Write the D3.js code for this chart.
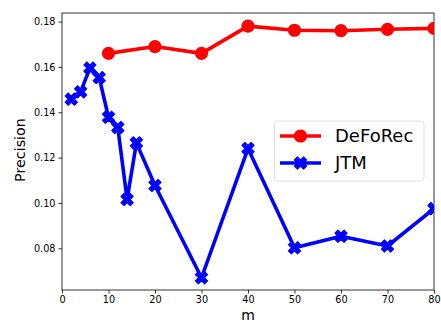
<!DOCTYPE html>
<html><head><meta charset="utf-8">
<script src="https://cdn.jsdelivr.net/npm/d3@7"></script>
<style>body{margin:0;background:#fff}svg{display:block}text{font-family:"DejaVu Sans",sans-serif}</style>
</head><body><svg id="c" width="441" height="322"></svg>
<script>
const defoX = [10, 20, 30, 40, 50, 60, 70, 80];
const defoY = [0.166, 0.169, 0.166, 0.178, 0.1762, 0.176, 0.1766, 0.1770];
const jtmX = [2, 4, 6, 8, 10, 12, 14, 16, 20, 30, 40, 50, 60, 70, 80];
const jtmY = [0.1458, 0.1490, 0.1595, 0.1553, 0.1378, 0.1333, 0.1015, 0.1265, 0.1077, 0.0670, 0.1240, 0.0802, 0.0853, 0.0810, 0.0975];
const xTicks = [0, 10, 20, 30, 40, 50, 60, 70, 80];
const yTicks = [0.08, 0.10, 0.12, 0.14, 0.16, 0.18];
const seriesNames = ["DeFoRec", "JTM"];
const colors = ["#ff0000", "#0000ff"];

const svg = d3.select("#c");
const L = 62, R = 434, T = 13, B = 290;
const x = d3.scaleLinear().domain([0, 80]).range([L, R]);
const y = d3.scaleLinear().domain([0.0616, 0.1838]).range([B, T]);

const gx = svg.append("g").attr("transform", `translate(0,${B})`)
  .call(d3.axisBottom(x).tickValues(xTicks).tickSize(3.5).tickPadding(3).tickFormat(d3.format("d")));
const gy = svg.append("g").attr("transform", `translate(${L},0)`)
  .call(d3.axisLeft(y).tickValues(yTicks).tickSize(3.5).tickPadding(3).tickFormat(d3.format(".2f")));
[gx, gy].forEach(g => {
  g.select(".domain").remove();
  g.selectAll("text").attr("font-size", 9.7).attr("fill", "#000").attr("font-family", "DejaVu Sans");
  g.selectAll("line").attr("stroke", "#000").attr("stroke-width", 0.8);
});
svg.append("rect").attr("x", L).attr("y", T).attr("width", R - L).attr("height", B - T)
  .attr("fill", "none").attr("stroke", "#000").attr("stroke-width", 0.8);

const clip = svg.append("clipPath").attr("id", "clp").append("rect")
  .attr("x", L).attr("y", T).attr("width", R - L).attr("height", B - T);

const line = d3.line().x(d => x(d[0])).y(d => y(d[1]));
const defo = defoX.map((v, i) => [v, defoY[i]]);
const jtm = jtmX.map((v, i) => [v, jtmY[i]]);
const plot = svg.append("g").attr("clip-path", "url(#clp)");

const xSym = d3.symbol().type(d3.symbolCross).size(95);
function drawX(g, cx, cy) {
  g.append("path").attr("d", xSym()).attr("transform", `translate(${cx},${cy}) rotate(45)`)
    .attr("fill", colors[1]).attr("stroke", colors[1]).attr("stroke-width", 1).attr("stroke-linejoin", "round");
}

plot.append("path").datum(defo).attr("d", line).attr("fill", "none").attr("stroke", colors[0]).attr("stroke-width", 3.6).attr("stroke-linejoin", "round");
plot.selectAll(".dc").data(defo).enter().append("circle")
  .attr("cx", d => x(d[0])).attr("cy", d => y(d[1])).attr("r", 6.6).attr("fill", colors[0]);

plot.append("path").datum(jtm).attr("d", line).attr("fill", "none").attr("stroke", colors[1]).attr("stroke-width", 3.6).attr("stroke-linejoin", "round");
jtm.forEach(d => drawX(plot, x(d[0]), y(d[1])));

// legend
const lg = svg.append("g");
lg.append("rect").attr("x", 274.5).attr("y", 121).attr("width", 149.5).attr("height", 60).attr("rx", 3)
  .attr("fill", "#fff").attr("fill-opacity", 0.8).attr("stroke", "#d9d9d9").attr("stroke-width", 0.8);
const rows = [136, 163];
seriesNames.forEach((n, i) => {
  lg.append("line").attr("x1", 280).attr("x2", 321).attr("y1", rows[i]).attr("y2", rows[i])
    .attr("stroke", colors[i]).attr("stroke-width", 3.6);
  if (i === 0) lg.append("circle").attr("cx", 300.5).attr("cy", rows[i]).attr("r", 6.6).attr("fill", colors[0]);
  else drawX(lg, 300.5, rows[i]);
  lg.append("text").attr("x", 335).attr("y", rows[i]).attr("dy", "0.35em").attr("font-size", 18).attr("fill", "#000").text(n);
});

svg.append("text").attr("x", (L + R) / 2).attr("y", 319.5).attr("text-anchor", "middle").attr("font-size", 14).attr("fill", "#000").text("m");
svg.append("text").attr("transform", `translate(24.5,150) rotate(-90)`).attr("text-anchor", "middle").attr("font-size", 14.3).attr("fill", "#000").text("Precision");
</script></body></html>
